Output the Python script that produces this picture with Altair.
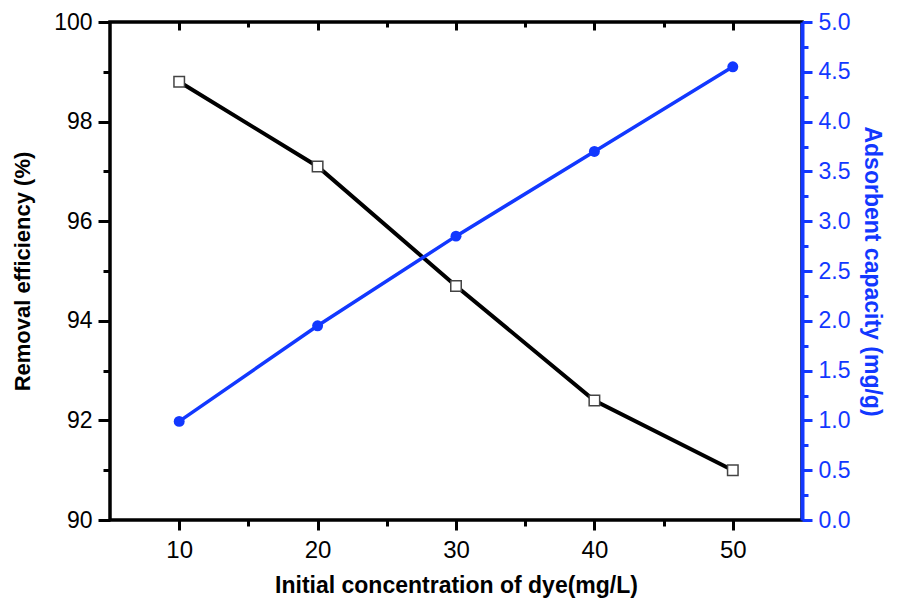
import altair as alt
import pandas as pd

conc = [10, 20, 30, 40, 50]
removal = [98.8, 97.1, 94.7, 92.4, 91.0]
capacity = [0.99, 1.95, 2.85, 3.70, 4.55]

x_major = [10, 20, 30, 40, 50]
x_minor = [15, 25, 35, 45]
yl_major = [90, 92, 94, 96, 98, 100]
yl_minor = [91, 93, 95, 97, 99]
yr_major = [0.0, 0.5, 1.0, 1.5, 2.0, 2.5, 3.0, 3.5, 4.0, 4.5, 5.0]
yr_minor = [0.25, 0.75, 1.25, 1.75, 2.25, 2.75, 3.25, 3.75, 4.25, 4.75]

df = pd.DataFrame({"conc": conc, "removal": removal, "capacity": capacity})

FONT = "Liberation Sans"
BLUE = "#1238ff"

xs = alt.Scale(domain=[5, 55], nice=False, zero=False)
yls = alt.Scale(domain=[90, 100], nice=False, zero=False)
yrs = alt.Scale(domain=[0, 5], nice=False, zero=False)

base = alt.Chart(df)

x_bottom_major = alt.X("conc:Q", scale=xs, axis=alt.Axis(
    orient="bottom", values=x_major, title="Initial concentration of dye(mg/L)",
    domain=False, grid=False, tickSize=10, tickWidth=3, tickColor="black",
    labelFont=FONT, labelFontSize=24, labelColor="black", labelPadding=8,
    titleFont=FONT, titleFontSize=23, titleFontWeight="bold", titleColor="black",
    titlePadding=12, format="d"))
y_left_major = alt.Y("removal:Q", scale=yls, axis=alt.Axis(
    orient="left", values=yl_major, title="Removal efficiency (%)",
    domain=False, grid=False, tickSize=12, tickWidth=3, tickColor="black",
    labelFont=FONT, labelFontSize=23, labelColor="black", labelPadding=6,
    titleFont=FONT, titleFontSize=22, titleFontWeight="bold", titleColor="black",
    titlePadding=19, format="d"))

line_removal = base.mark_line(color="black", strokeWidth=4).encode(
    x=x_bottom_major, y=y_left_major)

pts_removal = base.mark_point(shape="square", filled=True, fill="white",
                              stroke="#444444", strokeWidth=1.5, size=110, opacity=1).encode(
    x=alt.X("conc:Q", scale=xs, axis=alt.Axis(
        orient="bottom", values=x_minor, labels=False, title=None, domain=False,
        grid=False, tickSize=6, tickWidth=3, tickColor="black")),
    y=alt.Y("removal:Q", scale=yls, axis=alt.Axis(
        orient="left", values=yl_minor, labels=False, title=None, domain=False,
        grid=False, tickSize=7, tickWidth=3, tickColor="black")))

line_cap = base.mark_line(color=BLUE, strokeWidth=3.5).encode(
    x=alt.X("conc:Q", scale=xs, axis=alt.Axis(
        orient="top", values=x_major, labels=False, title=None, domain=False,
        grid=False, tickSize=8, tickWidth=3, tickColor="black", offset=-8)),
    y=alt.Y("capacity:Q", scale=yrs, axis=alt.Axis(
        orient="right", values=yr_major, title="Adsorbent capacity (mg/g)",
        domain=True, domainColor=BLUE, domainWidth=4, grid=False,
        tickSize=10, tickWidth=3, tickColor=BLUE,
        labelFont=FONT, labelFontSize=23, labelColor=BLUE, labelPadding=6,
        titleFont=FONT, titleFontSize=23, titleFontWeight="bold", titleColor=BLUE,
        titlePadding=10, titleAngle=90, format=".1f")))

pts_cap = base.mark_circle(color=BLUE, size=120, opacity=1).encode(
    x=alt.X("conc:Q", scale=xs, axis=alt.Axis(
        orient="top", values=x_minor, labels=False, title=None, domain=False,
        grid=False, tickSize=5, tickWidth=3, tickColor="black", offset=-5)),
    y=alt.Y("capacity:Q", scale=yrs, axis=alt.Axis(
        orient="right", values=yr_minor, labels=False, title=None, domain=False,
        grid=False, tickSize=6, tickWidth=3, tickColor=BLUE)))

chart = alt.layer(line_removal, line_cap, pts_removal, pts_cap).resolve_scale(
    x="independent", y="independent").resolve_axis(
    x="independent", y="independent").properties(
    width=692, height=498,
    background="white",
    autosize=alt.AutoSizeParams(type="none"),
    padding={"left": 102, "top": 14, "right": 86, "bottom": 84},
).configure_view(stroke="black", strokeWidth=3.5)

chart.save("out.html", embed_options={"renderer": "svg", "actions": False})
